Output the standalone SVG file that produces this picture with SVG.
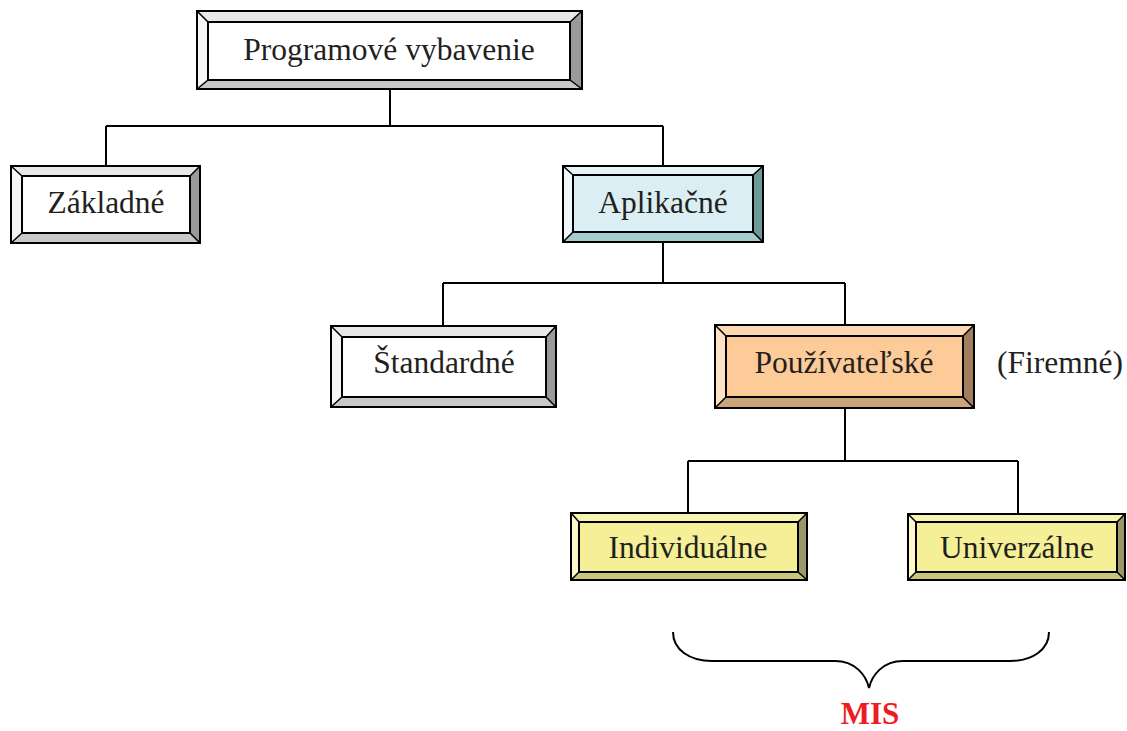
<svg xmlns="http://www.w3.org/2000/svg" width="1127" height="731" viewBox="0 0 1127 731">
<style>
.o{fill:none;stroke:#000;stroke-width:2}
.i{stroke:#000;stroke-width:2}
.d{stroke:#000;stroke-width:1.5}
.t{font-family:"Liberation Serif","Times New Roman",serif;font-size:31.5px;fill:#231f20;text-anchor:middle}
.w .f{fill:#fff}.w .bt{fill:#e8e8e8}.w .bl{fill:#f6f6f6}.w .br{fill:#9a9a9a}.w .bb{fill:#c8c8c8}
.c .f{fill:#daeef3}.c .bt{fill:#e6f4f7}.c .bl{fill:#eff8fa}.c .br{fill:#6c9a9b}.c .bb{fill:#a5cdd0}
.p .f{fill:#fdcb97}.p .bt{fill:#fdd8b2}.p .bl{fill:#fee2c6}.p .br{fill:#a07e5e}.p .bb{fill:#cca47c}
.y .f{fill:#f5f097}.y .bt{fill:#f7f3b0}.y .bl{fill:#fbf9c8}.y .br{fill:#9a976a}.y .bb{fill:#c9c57d}
.cn{fill:none;stroke:#000;stroke-width:2}
</style>
<g id="connectors" class="cn">
<path d="M390 89V126M106 126H663M106 126V166M663 126V166"/>
<path d="M663 242V283M443 283H845M443 283V326M845 283V325"/>
<path d="M845 408V461M688 461H1018M688 461V513M1018 461V514"/>
<path d="M673 632C673 650 690 661 712 661L835 661C855 661 866 675 869 688C872 675 883 661 903 661L1010 661C1032 661 1049 650 1049 632"/>
</g>
<g id="programove" class="w">
<polygon class="bt" points="197,11 582,11 570,22 208,22"/>
<polygon class="bl" points="197,11 208,22 208,80 197,89"/>
<polygon class="br" points="582,11 582,89 570,80 570,22"/>
<polygon class="bb" points="197,89 208,80 570,80 582,89"/>
<rect class="f i" x="208" y="22" width="362" height="58"/>
<path class="d" d="M197 11L208 22M582 11L570 22M197 89L208 80M582 89L570 80"/>
<rect class="o" x="197" y="11" width="385" height="78"/>
<text class="t" x="389" y="60">Programové vybavenie</text>
</g>
<g id="zakladne" class="w">
<polygon class="bt" points="11,166 200,166 190,176 22,176"/>
<polygon class="bl" points="11,166 22,176 22,233 11,243"/>
<polygon class="br" points="200,166 200,243 190,233 190,176"/>
<polygon class="bb" points="11,243 22,233 190,233 200,243"/>
<rect class="f i" x="22" y="176" width="168" height="57"/>
<path class="d" d="M11 166L22 176M200 166L190 176M11 243L22 233M200 243L190 233"/>
<rect class="o" x="11" y="166" width="189" height="77"/>
<text class="t" x="106" y="213">Základné</text>
</g>
<g id="aplikacne" class="c">
<polygon class="bt" points="563,166 763,166 753,175 573,175"/>
<polygon class="bl" points="563,166 573,175 573,232 563,242"/>
<polygon class="br" points="763,166 763,242 753,232 753,175"/>
<polygon class="bb" points="563,242 573,232 753,232 763,242"/>
<rect class="f i" x="573" y="175" width="180" height="57"/>
<path class="d" d="M563 166L573 175M763 166L753 175M563 242L573 232M763 242L753 232"/>
<rect class="o" x="563" y="166" width="200" height="76"/>
<text class="t" x="663" y="213">Aplikačné</text>
</g>
<g id="standardne" class="w">
<polygon class="bt" points="331,326 556,326 546,337 342,337"/>
<polygon class="bl" points="331,326 342,337 342,397 331,407"/>
<polygon class="br" points="556,326 556,407 546,397 546,337"/>
<polygon class="bb" points="331,407 342,397 546,397 556,407"/>
<rect class="f i" x="342" y="337" width="204" height="60"/>
<path class="d" d="M331 326L342 337M556 326L546 337M331 407L342 397M556 407L546 397"/>
<rect class="o" x="331" y="326" width="225" height="81"/>
<text class="t" x="444" y="373">Štandardné</text>
</g>
<g id="pouzivatelske" class="p">
<polygon class="bt" points="715,325 974,325 963,336 726,336"/>
<polygon class="bl" points="715,325 726,336 726,397 715,408"/>
<polygon class="br" points="974,325 974,408 963,397 963,336"/>
<polygon class="bb" points="715,408 726,397 963,397 974,408"/>
<rect class="f i" x="726" y="336" width="237" height="61"/>
<path class="d" d="M715 325L726 336M974 325L963 336M715 408L726 397M974 408L963 397"/>
<rect class="o" x="715" y="325" width="259" height="83"/>
<text class="t" x="844" y="373">Používateľské</text>
</g>
<g id="firemne">
<text class="t" x="1060" y="373">(Firemné)</text>
</g>
<g id="individualne" class="y">
<polygon class="bt" points="571,513 807,513 798,522 579,522"/>
<polygon class="bl" points="571,513 579,522 579,572 571,580"/>
<polygon class="br" points="807,513 807,580 798,572 798,522"/>
<polygon class="bb" points="571,580 579,572 798,572 807,580"/>
<rect class="f i" x="579" y="522" width="219" height="50"/>
<path class="d" d="M571 513L579 522M807 513L798 522M571 580L579 572M807 580L798 572"/>
<rect class="o" x="571" y="513" width="236" height="67"/>
<text class="t" x="688" y="558">Individuálne</text>
</g>
<g id="univerzalne" class="y">
<polygon class="bt" points="908,514 1125,514 1117,522 916,522"/>
<polygon class="bl" points="908,514 916,522 916,572 908,580"/>
<polygon class="br" points="1125,514 1125,580 1117,572 1117,522"/>
<polygon class="bb" points="908,580 916,572 1117,572 1125,580"/>
<rect class="f i" x="916" y="522" width="201" height="50"/>
<path class="d" d="M908 514L916 522M1125 514L1117 522M908 580L916 572M1125 580L1117 572"/>
<rect class="o" x="908" y="514" width="217" height="66"/>
<text class="t" x="1017" y="558">Univerzálne</text>
</g>
<g id="mis">
<text x="870" y="724" style="font-family:'Liberation Serif','Times New Roman',serif;font-size:31px;font-weight:bold;fill:#ed1c24;text-anchor:middle">MIS</text>
</g>
</svg>
